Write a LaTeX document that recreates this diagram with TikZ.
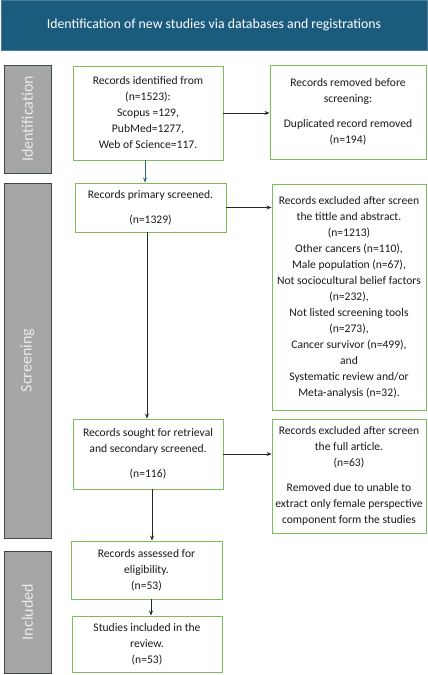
\documentclass[tikz,border=0pt]{standalone}
\usepackage{fontspec}
\setmainfont{Carlito}
\usetikzlibrary{arrows.meta,calc}
\definecolor{hdr}{HTML}{1B5C7E}
\definecolor{side}{HTML}{A6A6A6}
\definecolor{sideb}{HTML}{3E4A52}
\definecolor{grn}{HTML}{7CBF5A}
\definecolor{teal}{HTML}{2F6482}
\definecolor{txt}{HTML}{1A1A1A}
\tikzset{
  box/.style={draw=grn, line width=0.9pt, fill=white, align=center, text=txt,
    font=\fontsize{11.6}{16}\selectfont, inner sep=1pt},
  sidebar/.style={draw=sideb, line width=0.9pt, fill=side},
  sidelabel/.style={text=white!92!black, font=\fontsize{16}{18}\selectfont, rotate=90},
  arr/.style={draw=black!85, line width=0.9pt, -{Stealth[length=5pt,width=4pt]}}
}
\begin{document}
\begin{tikzpicture}[x=1pt,y=1pt]
\useasboundingbox (0,0) rectangle (428,-675);
% header
\node[fill=hdr, draw=hdr!80!white, line width=0.6pt, minimum width=426pt, minimum height=50pt, inner sep=0pt,
  text=white, font=\fontsize{13.8}{16}\selectfont] (hdr) at (214,-25) {Identification of new studies via databases and registrations};
% sidebars
\node[sidebar, minimum width=47pt, minimum height=108pt, inner sep=0pt] (s1) at (27.5,-119) {};
\node[sidelabel] at (s1) {Identification};
\node[sidebar, minimum width=47pt, minimum height=355pt, inner sep=0pt] (s2) at (27.5,-360.5) {};
\node[sidelabel] at (s2) {Screening};
\node[sidebar, minimum width=47pt, minimum height=122pt, inner sep=0pt] (s3) at (27.5,-612) {};
\node[sidelabel] at (s3) {Included};
% boxes
\node[box, minimum width=150pt, minimum height=94pt] (b1) at (148,-113)
  {Records identified from\\(n=1523):\\Scopus =129,\\PubMed=1277,\\Web of Science=117.};
\node[box, minimum width=156pt, minimum height=94pt] (b2) at (348,-112)
  {Records removed before\\screening:\\[9pt]Duplicated record removed\\(n=194)};
\node[box, minimum width=151pt, minimum height=49pt] (b3) at (150.5,-207.5)
  {Records primary screened.\\[9pt](n=1329)};
\node[box, minimum width=154pt, minimum height=226pt] (b4) at (349,-297)
  {Records excluded after screen\\the tittle and abstract.\\(n=1213)\\Other cancers (n=110),\\Male population (n=67),\\Not sociocultural belief factors\\(n=232),\\Not listed screening tools\\(n=273),\\Cancer survivor (n=499),\\and\\Systematic review and/or\\Meta-analysis (n=32).};
\node[box, minimum width=150pt, minimum height=70pt] (b5) at (148,-454)
  {Records sought for retrieval\\and secondary screened.\\[9pt](n=116)};
\node[box, minimum width=154pt, minimum height=114pt] (b6) at (349,-476)
  {Records excluded after screen\\the full article.\\(n=63)\\[9pt]Removed due to unable to\\extract only female perspective\\component form the studies};
\node[box, minimum width=151pt, minimum height=58pt] (b7) at (146.5,-570)
  {Records assessed for\\eligibility.\\(n=53)};
\node[box, minimum width=150pt, minimum height=56pt] (b8) at (147,-644)
  {Studies included in the\\review.\\(n=53)};
% connector end points
\coordinate (c1) at ($(b1.south)+(-3,0)$);
\coordinate (c3) at ($(b3.south)+(-3.5,0)$);
\coordinate (c5) at ($(b5.south)+(4,0)$);
\coordinate (c7) at ($(b7.south)+(4.5,0)$);
% connectors
\draw[arr] (b1.east) -- (b1.east -| b2.west);
\draw[arr, draw=teal] (c1) -- (c1 |- b3.north);
\draw[arr] (b3.east) -- (b3.east -| b4.west);
\draw[arr] (c3) -- (c3 |- b5.north);
\draw[arr] (b5.east) -- (b5.east -| b6.west);
\draw[arr] (c5) -- (c5 |- b7.north);
\draw[arr] (c7) -- (c7 |- b8.north);
\end{tikzpicture}
\end{document}
